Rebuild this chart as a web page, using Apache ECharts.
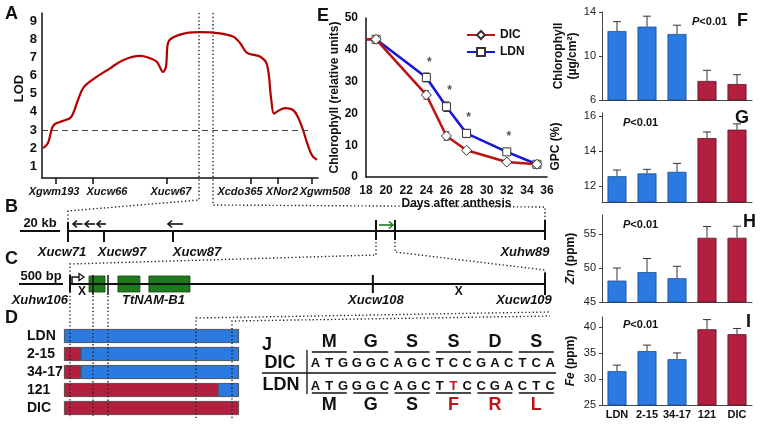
<!DOCTYPE html>
<html><head><meta charset="utf-8">
<script src="https://cdn.jsdelivr.net/npm/echarts@6/dist/echarts.min.js"></script>
<style>html,body{margin:0;padding:0;background:#fff}#c{width:763px;height:426px}</style>
</head><body><div id="c"></div>
<script>
// ================= DATA =================
// Panel A: LOD profile along the chromosome (map units)
const lodPos = [1,6,10,13,21,29,35,41,50,68,81,98,106,115,121,124,126,131,145,158,178,191,198,205,218,225,229,232,236,243,251,256,261,265,270,275];
const lodVal = [2.0,2.28,3.1,3.33,3.5,3.7,4.5,5.3,5.75,6.4,6.85,7.08,7.0,6.75,6.2,6.5,7.8,8.1,8.35,8.4,8.33,8.15,7.8,7.25,7.05,6.6,4.8,3.9,4.05,4.2,4.1,3.7,3.0,2.3,1.6,1.35];
const lodThreshold = 3;
const lodTicks = [1,2,3,4,5,6,7,8,9];
const mapMarkers = ['Xgwm193','Xucw66','Xucw67','Xcdo365','XNor2','Xgwm508'];
const mapMarkerPos = [14,51,125,209,236,270];

// Panel E: chlorophyll during senescence
const days = [18,19,24,26,28,32,35];
const dicChl = [43.3,43.3,25.8,12.9,8.4,4.7,4.0];
const dicErr = [0,0.6,1.3,1.3,0.7,0.5,0.3];
const ldnChl = [43.3,43.3,31.3,22.1,13.7,7.9,4.0];
const ldnErr = [0,0.6,1.4,1.5,1.3,0.7,0.3];
const sigDays = [24.3,26.3,28.2,32.2];
const sigLevel = [36,27,18.5,12.6];

// Panels F-I: phenotypes of lines
const lines = ['LDN','2-15','34-17','121','DIC'];
const lineAllele = ['LDN','LDN','LDN','DIC','DIC'];
const chlF = [12.27,12.67,12.0,7.73,7.45];
const chlFErr = [0.85,0.95,0.8,0.97,0.85];
const gpc = [12.57,12.73,12.82,14.74,15.22];
const gpcErr = [0.35,0.23,0.48,0.35,0.33];
const zn = [48.15,49.4,48.5,54.45,54.45];
const znErr = [1.85,2.0,1.75,1.65,1.7];
const fe = [31.5,35.35,33.8,39.55,38.6];
const feErr = [1.16,1.15,1.2,1.85,1.1];
const chlTicks = [6,10,14], gpcTicks = [12,14,16], znTicks = [45,50,55], feTicks = [25,30,35,40];

// Panel D: graphical genotypes (DIC-derived and LDN-derived segment lengths)
const dicSegment = [0,17,17,154,175];
const ldnSegment = [175,158,158,21,0];

// Panel B: physical map (kb)
const bMarkers = ['Xucw71','Xucw97','Xucw87','Xuhw89'];
const bMarkerKb = [0,18,52.5,238.5];
const bRegionKb = [154,163.5];
const bGenes = [[7.25,2.5],[13.5,8.5],[19,14.5],[57.5,50]];
const bTargetGene = [[155.5,162.5]];

// Panel C: gene region (bp)
const cMarkers = ['Xuhw106','Xucw108','Xucw109'];
const cMarkerBp = [0,3443,5400];
const cExons = [[216,398],[545,795],[897,1364]];
const cSitesBp = [261,432];
const cCrossoverBp = [136,4420];
const geneName = 'TtNAM-B1';

// Panel J: sequences
const dicSeq = 'ATGGGCAGCTCCGACTCA';
const ldnSeq = 'ATGGGCAGCTTCCGACTC';
const ldnInsertIdx = 10;
const dicAA = ['M','G','S','S','D','S'];
const ldnAA = ['M','G','S','F','R','L'];

// ================= STYLE =================
const FONT = '"Liberation Sans", Arial, Helvetica, sans-serif';
const BLUE = '#2a7ae2', BLUE_B = '#1b4e93';
const CRIM = '#b3203f', CRIM_B = '#5e1222';
const LODRED = '#b30000';
const DICLINE = '#bb1515', LDNLINE = '#1717d8';
const GREEN = '#1d7a1d', GREEN_B = '#0c4a0c';
const INK = '#111';

const chart = echarts.init(document.getElementById('c'));

function ln(x1,y1,x2,y2,stroke,w,dash){return {type:'line',shape:{x1,y1,x2,y2},style:{stroke:stroke||INK,lineWidth:w||1,lineDash:dash||null}};}
function tx(text,x,y,font,fill,align){return {type:'text',style:{text,x,y,font,fill:fill||INK,align:align||'center',verticalAlign:'middle'}};}

function errorRender(capHalf, both){
  return function(params, api){
    const x = api.value(0), v = api.value(1), e = api.value(2);
    if (!e) return null;
    const pt = api.coord([x, v + e]);
    const pb = api.coord([x, both ? v - e : v]);
    const ch = [ln(pt[0],pt[1],pb[0],pb[1],'#333',1), ln(pt[0]-capHalf,pt[1],pt[0]+capHalf,pt[1],'#333',1)];
    if (both) ch.push(ln(pb[0]-capHalf,pb[1],pb[0]+capHalf,pb[1],'#333',1));
    return {type:'group', children: ch};
  };
}

function barColor(i){ return lineAllele[i]==='LDN' ? {color:BLUE,borderColor:BLUE_B,borderWidth:0.8} : {color:CRIM,borderColor:CRIM_B,borderWidth:0.8}; }

function barSeries(gi, vals, errs){
  return [
    {type:'bar', xAxisIndex:gi, yAxisIndex:gi, barWidth:19,
     data: vals.map((v,i)=>({value:v, itemStyle:barColor(i)}))},
    {type:'custom', xAxisIndex:gi, yAxisIndex:gi, z:5,
     renderItem: errorRender(4,false), encode:{x:0,y:1},
     data: vals.map((v,i)=>[i, v, errs[i]])}
  ];
}

const barXAxis = (gi, showLabels) => ({type:'category', gridIndex:gi, data:lines,
  axisLine:{lineStyle:{color:'#444',width:1}}, axisTick:{show:false},
  axisLabel:{show:showLabels, interval:0, fontWeight:'bold', fontSize:11, color:INK, margin:4, fontFamily:FONT}});

function barYAxis(gi, min, max, ticks, name, gap, pad, rich){
  return {type:'value', gridIndex:gi, min, max,
    axisLine:{show:true, lineStyle:{color:'#444',width:1}},
    axisTick:{show:true, customValues:ticks, length:3, lineStyle:{color:'#444'}},
    axisLabel:{customValues:ticks, fontSize:11, color:'#222', margin:6, fontFamily:FONT},
    splitLine:{show:false},
    name, nameLocation:'middle', nameRotate:90, nameGap:gap,
    nameTextStyle:{fontWeight:'bold', fontSize:12, color:INK, fontFamily:FONT, lineHeight:14, padding:pad||0, rich:rich||{}}};
}

// A-axis label shift (layout) so names sit as in the figure
const mapLabelShift = [-2,14,4,-11,4,13];
const mapRich = {};
mapLabelShift.forEach((s,i)=>{ mapRich['m'+i] = {fontStyle:'italic', fontWeight:'bold', fontSize:11, color:INK, fontFamily:FONT,
   padding: s>0 ? [0,0,0,2*s] : [0,-2*s,0,0]}; });

// B / C layout
const bTickUp = [9,0,0,11], bTickDown = [11,11,11,9], bLabelShift = [-6,18,24,-20];
const cTickUp = [9,9,11], cTickDown = [8,9,11], cLabelShift = [-2,3,-21], cLabelAlign = ['right','center','center'];

function arrowShape(x1,x2,y,color){
  const d = x2 > x1 ? 1 : -1;
  return [ln(x1,y,x2,y,color,1.6),
    {type:'polyline', shape:{points:[[x2-d*4,y-3.5],[x2,y],[x2-d*4,y+3.5]]}, style:{stroke:color,lineWidth:1.6,fill:null}}];
}

const series = [
  // A
  {type:'line', xAxisIndex:0, yAxisIndex:0, data: lodPos.map((p,i)=>[p, lodVal[i]]),
   smooth:0.35, symbol:'none', lineStyle:{color:LODRED, width:2.2},
   markLine:{silent:true, symbol:'none', label:{show:false}, lineStyle:{color:'#444', type:[6,4], width:1},
     data:[[{coord:[0,lodThreshold]},{coord:[mapMarkerPos[5],lodThreshold]}]]}},
  // E
  {name:'DIC', type:'line', xAxisIndex:1, yAxisIndex:1,
   data: days.map((d,i)=> i===0 ? {value:[d,dicChl[i]], symbol:'none'} : [d, dicChl[i]]),
   symbol:'diamond', symbolSize:10, z:4, lineStyle:{color:DICLINE, width:2.6},
   itemStyle:{color:'#fff', borderColor:'#333', borderWidth:1}},
  {name:'LDN', type:'line', xAxisIndex:1, yAxisIndex:1,
   data: days.map((d,i)=> i===0 ? {value:[d,ldnChl[i]], symbol:'none'} : [d, ldnChl[i]]),
   symbol:'rect', symbolSize:8, z:3, lineStyle:{color:LDNLINE, width:2.6},
   itemStyle:{color:'#fff', borderColor:'#333', borderWidth:1}},
  {type:'custom', xAxisIndex:1, yAxisIndex:1, z:2, renderItem:errorRender(3,true), encode:{x:0,y:1},
   data: days.map((d,i)=>[d, dicChl[i], dicErr[i]])},
  {type:'custom', xAxisIndex:1, yAxisIndex:1, z:2, renderItem:errorRender(3,true), encode:{x:0,y:1},
   data: days.map((d,i)=>[d, ldnChl[i], ldnErr[i]])},
  {type:'scatter', xAxisIndex:1, yAxisIndex:1, symbolSize:1, itemStyle:{color:'rgba(0,0,0,0)'},
   data: sigDays.map((d,i)=>[d, sigLevel[i]]),
   label:{show:true, position:'inside', formatter:'*', fontSize:12, fontWeight:'bold', color:'#222'}},
  // F-I
  ...barSeries(2, chlF, chlFErr),
  ...barSeries(3, gpc, gpcErr),
  ...barSeries(4, zn, znErr),
  ...barSeries(5, fe, feErr),
  // D
  {type:'bar', xAxisIndex:6, yAxisIndex:6, stack:'g', barWidth:14,
   data: dicSegment.map(v=> v>0 ? v : null), itemStyle:{color:CRIM, borderColor:'#3a3a3a', borderWidth:0.8}},
  {type:'bar', xAxisIndex:6, yAxisIndex:6, stack:'g', barWidth:14,
   data: ldnSegment.map(v=> v>0 ? v : null), itemStyle:{color:BLUE, borderColor:'#3a3a3a', borderWidth:0.8}},
  // B backbone
  {type:'line', xAxisIndex:7, yAxisIndex:7, data:[[0,0],[bMarkerKb[3],0]], symbol:'none', lineStyle:{color:INK,width:2}},
  // B markers
  {type:'custom', xAxisIndex:7, yAxisIndex:7, encode:{x:0,y:1}, data: bMarkerKb.map(k=>[k,0]),
   renderItem(params, api){
     const i = params.dataIndex, p = api.coord([api.value(0),0]);
     return {type:'group', children:[ln(p[0],p[1]-bTickUp[i],p[0],p[1]+bTickDown[i],INK,2),
       tx(bMarkers[i], p[0]+bLabelShift[i], p[1]+21, 'italic bold 13px '+FONT)]};
   }},
  // B region boundaries
  {type:'custom', xAxisIndex:7, yAxisIndex:7, encode:{x:0,y:1}, data: bRegionKb.map(k=>[k,0]),
   renderItem(params, api){ const p = api.coord([api.value(0),0]); return ln(p[0],p[1]-11,p[0],p[1]+9,INK,2); }},
  // B genes
  {type:'custom', xAxisIndex:7, yAxisIndex:7, encode:{x:[0,1]}, data: bGenes,
   renderItem(params, api){ const a = api.coord([api.value(0),0]), b = api.coord([api.value(1),0]);
     return {type:'group', children: arrowShape(a[0], b[0], a[1]-7, INK)}; }},
  {type:'custom', xAxisIndex:7, yAxisIndex:7, encode:{x:[0,1]}, data: bTargetGene,
   renderItem(params, api){ const a = api.coord([api.value(0),0]), b = api.coord([api.value(1),0]);
     return {type:'group', children: arrowShape(a[0], b[0], a[1]-6, GREEN)}; }},
  // C backbone
  {type:'line', xAxisIndex:8, yAxisIndex:8, data:[[0,0],[cMarkerBp[2],0]], symbol:'none', lineStyle:{color:INK,width:2}},
  // C exons
  {type:'custom', xAxisIndex:8, yAxisIndex:8, encode:{x:[0,1]}, data: cExons, z:3,
   renderItem(params, api){
     const a = api.coord([api.value(0),0]), b = api.coord([api.value(1),0]);
     const ch = [{type:'rect', shape:{x:a[0], y:a[1]-8, width:b[0]-a[0], height:16},
        style:{fill:GREEN, stroke:GREEN_B, lineWidth:0.8}}];
     if (params.dataIndex === cExons.length-1) {
       const g0 = api.coord([cExons[0][0],0]);
       ch.push(tx(geneName, (g0[0]+b[0])/2 + 14, a[1]+16, 'italic bold 13px '+FONT));
     }
     return {type:'group', children: ch};
   }},
  // C polymorphism sites
  {type:'custom', xAxisIndex:8, yAxisIndex:8, encode:{x:0,y:1}, data: cSitesBp.map(k=>[k,0]), z:4,
   renderItem(params, api){ const p = api.coord([api.value(0),0]); return ln(p[0],p[1]-9,p[0],p[1]+11,INK,1.5); }},
  // C markers
  {type:'custom', xAxisIndex:8, yAxisIndex:8, encode:{x:0,y:1}, data: cMarkerBp.map(k=>[k,0]),
   renderItem(params, api){
     const i = params.dataIndex, p = api.coord([api.value(0),0]);
     const ch = [ln(p[0],p[1]-cTickUp[i],p[0],p[1]+cTickDown[i],INK,2),
       tx(cMarkers[i], p[0]+cLabelShift[i], p[1]+16, 'italic bold 13px '+FONT, INK, cLabelAlign[i])];
     if (i===0) {
       ch.push({type:'polyline', shape:{points:[[p[0]+2,p[1]],[p[0]+2,p[1]-7],[p[0]+9,p[1]-7]]}, style:{stroke:INK,lineWidth:1.5,fill:null}});
       ch.push({type:'polygon', shape:{points:[[p[0]+9,p[1]-10.5],[p[0]+14,p[1]-7],[p[0]+9,p[1]-3.5]]}, style:{stroke:INK,lineWidth:1.3,fill:'#fff'}});
     }
     return {type:'group', children: ch};
   }},
  // C crossovers
  {type:'custom', xAxisIndex:8, yAxisIndex:8, encode:{x:0,y:1}, data: cCrossoverBp.map(k=>[k,0]),
   renderItem(params, api){ const p = api.coord([api.value(0),0]); return tx('X', p[0], p[1]+8, 'bold 12px '+FONT); }}
];

// ---------- graphic overlay ----------
const G = [];
function gText(text,x,y,font,fill,align){ return {type:'text', x, y, z:60, style:{text, font, fill:fill||INK, align:align||'center', verticalAlign:'middle'}}; }
function gLine(x1,y1,x2,y2,w){ return {type:'line', z:60, shape:{x1,y1,x2,y2}, style:{stroke:INK, lineWidth:w||1.3}}; }
function gDots(points){ return {type:'polyline', z:55, shape:{points}, style:{stroke:'#222', lineWidth:1.4, lineDash:[1.3,2.4], fill:null}}; }

// panel letters
[['A',5,14],['B',5,207],['C',5,259],['D',5,318],['E',317,16],['F',737,21],['G',735,118],['H',743,222],['I',746,322],['J',262,345]]
 .forEach(([t,x,y])=>G.push(gText(t,x,y,'bold 18px '+FONT,INK,'left')));

// dotted connectors
G.push(gDots([[199,13],[199,200],[68,211],[68,222]]));
G.push(gDots([[213,13],[213,205],[545,207],[545,220]]));
G.push(gDots([[376,242],[376,255],[70,264],[70,275]]));
G.push(gDots([[395,242],[395,252],[545,270],[545,273]]));
G.push(gDots([[70,292],[70,418]]));
G.push(gDots([[93,296],[93,418]]));
G.push(gDots([[108,296],[108,418]]));
G.push(gDots([[196,418],[196,318],[550,312]]));
G.push(gDots([[232,418],[232,321],[550,316]]));

// scale bars
G.push(gText('20 kb',40,223,'bold 13px '+FONT)); G.push(gLine(20,231,60,231,2));
G.push(gText('500 bp',41,276,'bold 13px '+FONT)); G.push(gLine(19,284,63,284,2));

// P values
const pRich = {i:{fontStyle:'italic',fontWeight:'bold',fontSize:11,fontFamily:FONT,fill:INK}, n:{fontWeight:'bold',fontSize:11,fontFamily:FONT,fill:INK}};
[[692,22],[623,123],[623,225],[623,325]].forEach(([x,y])=>G.push({type:'text', x, y, z:60,
  style:{text:'{i|P}{n|<0.01}', rich:pRich, align:'left', verticalAlign:'middle'}}));

// J
G.push(gText('DIC',280,363,'bold 18px '+FONT));
G.push(gText('LDN',281,385,'bold 18px '+FONT));
G.push(gLine(262,373,556,373,1.5));
G.push(gLine(307,350,307,394,1.3));
const seqX0 = 315.5, seqDx = 13.8;
for (let i=0;i<dicSeq.length;i++){
  G.push(gText(dicSeq[i], seqX0+seqDx*i, 363, 'bold 13px '+FONT));
  G.push(gText(ldnSeq[i], seqX0+seqDx*i, 386, 'bold 13px '+FONT, i===ldnInsertIdx ? DICLINE : INK));
}
for (let k=0;k<dicAA.length;k++){
  const cx = seqX0 + seqDx*(3*k+1);
  G.push(gText(dicAA[k], cx, 342, 'bold 18px '+FONT));
  G.push(gText(ldnAA[k], cx, 405, 'bold 18px '+FONT, ldnAA[k]!==dicAA[k] ? DICLINE : INK));
  G.push(gLine(cx-17.5,352,cx+17.5,352,1.3));
  G.push(gLine(cx-17.5,393,cx+17.5,393,1.3));
}

const option = {
  animation:false,
  backgroundColor:'#fff',
  textStyle:{fontFamily:FONT},
  grid:[
    {left:42, top:13, width:276, height:165},
    {left:366, top:18, width:181, height:159},
    {left:602, top:12, width:150, height:88},
    {left:602, top:113, width:150, height:89},
    {left:602, top:215, width:150, height:87},
    {left:602, top:317, width:150, height:88},
    {left:64, top:327, width:175, height:90},
    {left:68, top:220, width:477, height:22},
    {left:70, top:274, width:475, height:20}
  ],
  legend:{data:['DIC','LDN'], left:466, top:29, orient:'vertical', itemWidth:28, itemHeight:10, itemGap:5, padding:0,
    textStyle:{fontWeight:'bold', fontSize:12, color:INK, fontFamily:FONT}},
  xAxis:[
    {type:'value', gridIndex:0, min:0, max:276,
     axisLine:{lineStyle:{color:INK,width:1.5}},
     axisTick:{show:true, customValues:mapMarkerPos, length:6, lineStyle:{color:INK,width:1.5}},
     axisLabel:{customValues:mapMarkerPos, margin:8, rich:mapRich,
       formatter:(v)=>{ const i = mapMarkerPos.indexOf(v); return i<0 ? '' : '{m'+i+'|'+mapMarkers[i]+'}'; }},
     splitLine:{show:false}},
    {type:'value', gridIndex:1, min:18, max:36, interval:2,
     axisLine:{lineStyle:{color:INK,width:1.5}}, axisTick:{show:false},
     axisLabel:{fontWeight:'bold', fontSize:12, color:INK, margin:8, fontFamily:FONT},
     splitLine:{show:false},
     name:'Days after anthesis', nameLocation:'middle', nameGap:20,
     nameTextStyle:{fontWeight:'bold', fontSize:12, color:INK, fontFamily:FONT}},
    barXAxis(2,false), barXAxis(3,false), barXAxis(4,false), barXAxis(5,true),
    {type:'value', gridIndex:6, min:0, max:175, show:false},
    {type:'value', gridIndex:7, min:0, max:bMarkerKb[3], show:false},
    {type:'value', gridIndex:8, min:0, max:cMarkerBp[2], show:false}
  ],
  yAxis:[
    {type:'value', gridIndex:0, min:0.35, max:9.45,
     axisLine:{show:true, lineStyle:{color:INK,width:1.5}}, axisTick:{show:false},
     axisLabel:{customValues:lodTicks, fontWeight:'bold', fontSize:13, color:INK, margin:5, fontFamily:FONT},
     splitLine:{show:false},
     name:'LOD', nameLocation:'middle', nameRotate:90, nameGap:15,
     nameTextStyle:{fontWeight:'bold', fontSize:13, color:INK, fontFamily:FONT, padding:[0,0,0,14]}},
    {type:'value', gridIndex:1, min:0, max:50, interval:10,
     axisLine:{show:true, lineStyle:{color:INK,width:1.5}}, axisTick:{show:false},
     axisLabel:{fontWeight:'bold', fontSize:12, color:INK, margin:8, fontFamily:FONT},
     splitLine:{show:false},
     name:'Chlorophyll (relative units)', nameLocation:'middle', nameRotate:90, nameGap:21,
     nameTextStyle:{fontWeight:'bold', fontSize:12, color:INK, fontFamily:FONT}},
    barYAxis(2, 6, 14, chlTicks, 'Chlorophyll\n(µg/cm²)', 22),
    barYAxis(3, 11.1, 16.17, gpcTicks, 'GPC (%)', 39, [0,0,0,22]),
    barYAxis(4, 45, 57.8, znTicks, '{i|Zn} (ppm)', 24, 0, {i:{fontStyle:'italic', fontWeight:'bold', fontSize:12, fontFamily:FONT}}),
    barYAxis(5, 25, 41.9, feTicks, '{i|Fe} (ppm)', 24, 0, {i:{fontStyle:'italic', fontWeight:'bold', fontSize:12, fontFamily:FONT}}),
    {type:'category', gridIndex:6, data:lines, inverse:true,
     axisLine:{show:false}, axisTick:{show:false},
     axisLabel:{interval:0, fontWeight:'bold', fontSize:14, color:INK, margin:37, align:'left', fontFamily:FONT}},
    {type:'value', gridIndex:7, min:-1, max:1, show:false},
    {type:'value', gridIndex:8, min:-1, max:1, show:false}
  ],
  series,
  graphic:{elements:G}
};
chart.setOption(option);
</script></body></html>
